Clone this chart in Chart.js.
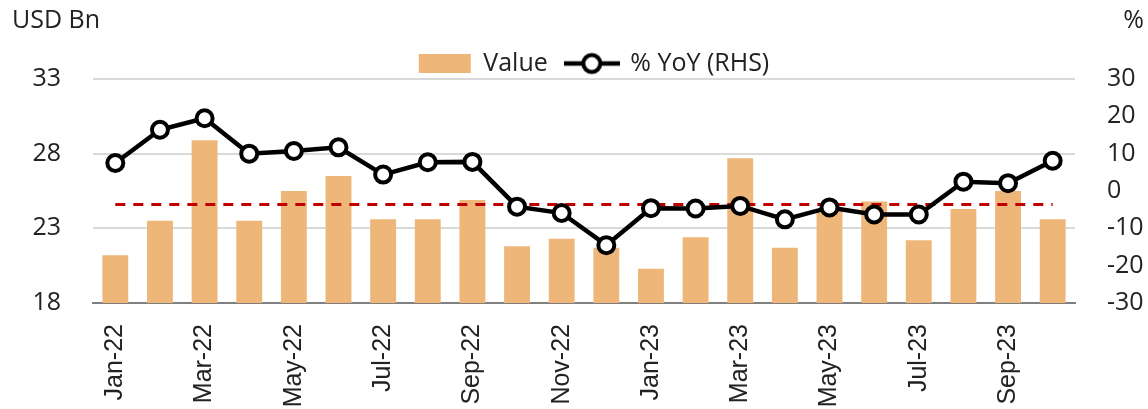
<!DOCTYPE html>
<html>
<head>
<meta charset="utf-8">
<script src="https://cdn.jsdelivr.net/npm/chart.js@4.4.1/dist/chart.umd.min.js"></script>
<style>
  html, body { margin: 0; padding: 0; background: #fff; }
  #wrap { width: 1148px; height: 409px; position: relative; }
</style>
</head>
<body>
<div id="wrap"><canvas id="chart"></canvas></div>
<script>
// months shown on the x axis
const labels = [
  'Jan-22', 'Feb-22', 'Mar-22', 'Apr-22', 'May-22', 'Jun-22', 'Jul-22', 'Aug-22',
  'Sep-22', 'Oct-22', 'Nov-22', 'Dec-22', 'Jan-23', 'Feb-23', 'Mar-23', 'Apr-23',
  'May-23', 'Jun-23', 'Jul-23', 'Aug-23', 'Sep-23', 'Oct-23'
];

// USD Bn (left axis)
const values = [
  21.2, 23.5, 28.9, 23.5, 25.5, 26.5, 23.6, 23.6, 24.9, 21.8, 22.3, 21.7,
  20.3, 22.4, 27.7, 21.7, 24.2, 24.8, 22.2, 24.3, 25.5, 23.6
];

// % YoY (right axis)
const yoy = [
  7.5, 16.4, 19.5, 10.0, 10.7, 11.7, 4.4, 7.7, 7.8, -4.2, -5.9, -14.5,
  -4.6, -4.7, -4.0, -7.6, -4.4, -6.3, -6.3, 2.5, 2.1, 8.1
];

// red dashed reference level (left axis)
const refLevel = [
  24.6, 24.6, 24.6, 24.6, 24.6, 24.6, 24.6, 24.6, 24.6, 24.6, 24.6, 24.6,
  24.6, 24.6, 24.6, 24.6, 24.6, 24.6, 24.6, 24.6, 24.6, 24.6
];

const leftTicks = [18, 23, 28, 33];
const rightTicks = [-30, -20, -10, 0, 10, 20, 30];

const BAR = '#EEB678';
const TEXT = '#222222';

// legend swatch for the line series: short line with a ring
const swatch = document.createElement('canvas');
swatch.width = 56;
swatch.height = 26;
(function () {
  const c = swatch.getContext('2d');
  c.strokeStyle = '#000';
  c.lineWidth = 4.5;
  c.beginPath();
  c.moveTo(0, 13);
  c.lineTo(56, 13);
  c.stroke();
  c.beginPath();
  c.arc(28, 13, 8.5, 0, Math.PI * 2);
  c.fillStyle = '#fff';
  c.fill();
  c.lineWidth = 4;
  c.stroke();
})();

const unitTitles = {
  id: 'unitTitles',
  afterLayout(chart) {
    // nudge legend to where the reference has it
    const lg = chart.legend;
    lg.left += 20; lg.right += 20;
    lg.top += 7; lg.bottom += 7;
  },
  afterDraw(chart) {
    const ctx = chart.ctx;
    ctx.save();
    ctx.fillStyle = TEXT;
    ctx.font = '25px "Open Sans"';
    ctx.textBaseline = 'alphabetic';
    ctx.textAlign = 'left';
    ctx.fillText('USD Bn', 12, 28);
    ctx.textAlign = 'right';
    ctx.fillText('%', 1144, 28);
    ctx.restore();
  }
};

new Chart(document.getElementById('chart'), {
  data: {
    labels: labels,
    datasets: [
      {
        type: 'bar',
        label: 'Value',
        data: values,
        yAxisID: 'y',
        backgroundColor: BAR,
        borderWidth: 0,
        barPercentage: 0.58,
        categoryPercentage: 1.0,
        order: 3
      },
      {
        type: 'line',
        label: '% YoY (RHS)',
        data: yoy,
        yAxisID: 'y1',
        borderColor: '#000',
        borderWidth: 4.5,
        pointRadius: 8,
        pointBorderWidth: 4,
        pointBackgroundColor: '#fff',
        pointBorderColor: '#000',
        tension: 0,
        order: 1
      },
      {
        type: 'line',
        label: 'ref',
        data: refLevel,
        yAxisID: 'y',
        borderColor: '#C00000',
        borderWidth: 3,
        borderDash: [10, 8],
        pointRadius: 0,
        order: 2
      }
    ]
  },
  options: {
    responsive: true,
    maintainAspectRatio: false,
    animation: false,
    layout: { padding: { top: 26, left: 0, right: 0, bottom: 0 } },
    plugins: {
      tooltip: { enabled: false },
      legend: {
        position: 'top',
        labels: {
          usePointStyle: true,
          pointStyleWidth: 52,
          boxHeight: 19,
          padding: 18,
          color: TEXT,
          font: { family: '"Open Sans"', size: 25 },
          generateLabels(chart) {
            const items = Chart.defaults.plugins.legend.labels.generateLabels(chart);
            return items
              .filter(it => it.datasetIndex !== 2)
              .sort((a, b) => a.datasetIndex - b.datasetIndex)
              .map(it => {
                it.pointStyle = it.datasetIndex === 0 ? 'rect' : swatch;
                it.lineWidth = 0;
                return it;
              });
          }
        }
      }
    },
    scales: {
      x: {
        grid: { display: false, drawTicks: false },
        border: { color: '#808080', width: 2 },
        ticks: {
          autoSkip: false,
          maxRotation: 90,
          minRotation: 90,
          padding: 21,
          color: TEXT,
          font: { family: '"Liberation Sans"', size: 25 },
          callback(v, i) { return i % 2 === 0 ? labels[i] : ''; }
        },
        afterFit(scale) { scale.height = 106; }
      },
      y: {
        position: 'left',
        min: leftTicks[0],
        max: leftTicks[leftTicks.length - 1],
        afterBuildTicks(scale) { scale.ticks = leftTicks.map(v => ({ value: v })); },
        grid: { color: '#D9D9D9', lineWidth: 2, drawTicks: false },
        border: { display: false },
        ticks: {
          padding: 32,
          color: TEXT,
          font: { family: '"Open Sans"', size: 25 }
        },
        afterFit(scale) { scale.width = 93; }
      },
      y1: {
        position: 'right',
        min: rightTicks[0],
        max: rightTicks[rightTicks.length - 1],
        afterBuildTicks(scale) { scale.ticks = rightTicks.map(v => ({ value: v })); },
        grid: { drawOnChartArea: false, drawTicks: false },
        border: { display: false },
        ticks: {
          padding: 32,
          color: TEXT,
          font: { family: '"Open Sans"', size: 25 }
        },
        afterFit(scale) { scale.width = 73; }
      }
    }
  },
  plugins: [unitTitles]
});
</script>
</body>
</html>
